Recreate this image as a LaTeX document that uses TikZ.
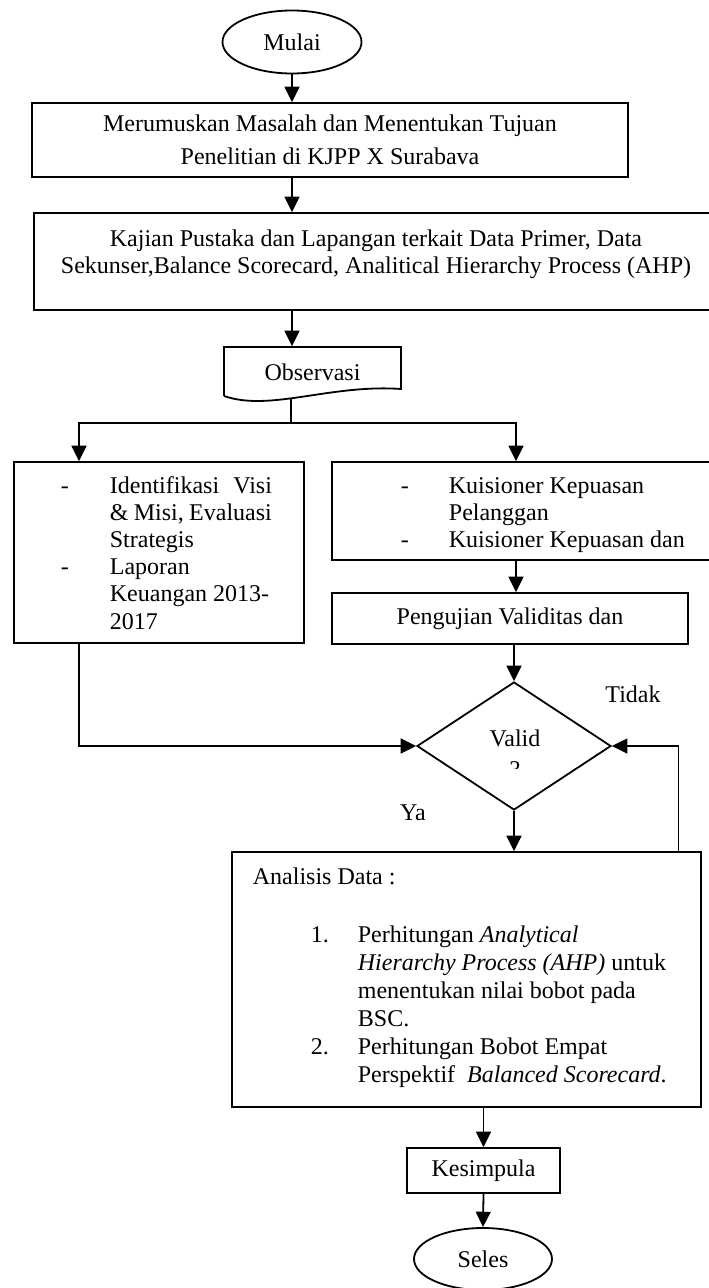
\documentclass[tikz,border=0pt]{standalone}
\usepackage{fontspec}
\setmainfont{Liberation Serif}
\usetikzlibrary{arrows.meta,shapes.geometric}

\begin{document}
\begin{tikzpicture}[x=0.5pt, y=-0.5pt, line width=0.9pt,
    every node/.style={font=\fontsize{12}{13.6}\selectfont},
    kotak/.style={draw, rectangle, inner sep=0pt},
    panah/.style={-{Triangle[length=2.7mm, width=2.6mm]}}]
  \useasboundingbox (0,0) rectangle (708,1288);

  \node[draw, ellipse, minimum width=69.5pt, minimum height=31.5pt, inner sep=0pt] (mulai) at (292,42) {Mulai};
  \node[kotak, minimum width=298pt, minimum height=37pt, align=center] (rumus) at (330,140) {Merumuskan Masalah dan Menentukan Tujuan\\[3pt] Penelitian di KJPP X Surabava};
  \node[kotak, minimum width=342pt, minimum height=48.5pt] (kajian) at (376,261.5) {};
  \node[align=center] (kajiantxt) at (376,254) {Kajian Pustaka dan Lapangan terkait Data Primer, Data\\ Sekunser,Balance Scorecard, Analitical Hierarchy Process (AHP)};

  \draw (224,396) -- (224,347) -- (401,347) -- (401,389) .. controls (330,384) and (270,412) .. (224,396);
  \node[minimum width=88.5pt, minimum height=25pt, inner sep=0pt] (obs) at (312.5,372) {Observasi};
  \coordinate (obsbawah) at (291,399);
  \coordinate (cabang) at (291,423);

  \node[kotak, minimum width=145pt, minimum height=90.5pt] (kiri) at (159,552.5) {};
  \node[anchor=base west, inner sep=0pt] (kiritxt) at (60,493) {\begin{tabular}[t]{@{}p{24.5pt}@{}l@{}}
    - & \makebox[81pt][s]{Identifikasi \ Visi}\\
      & \makebox[81pt][s]{\& Misi, Evaluasi}\\
      & Strategis\\
    - & Laporan\\
      & Keuangan 2013-\\
      & 2017
  \end{tabular}};
  \node[kotak, minimum width=204pt, minimum height=49pt] (kanan) at (536,511) {};
  \node[anchor=base west, inner sep=0pt] (kanantxt) at (400,493) {\begin{tabular}[t]{@{}p{24pt}@{}l@{}}
    - & Kuisioner Kepuasan\\
      & Pelanggan\\
    - & Kuisioner Kepuasan dan
  \end{tabular}};
  \node[kotak, minimum width=178pt, minimum height=25.5pt] (uji) at (510,618.5) {Pengujian Validitas dan};

  \node[draw, diamond, minimum width=97pt, minimum height=64pt, inner sep=0pt] (valid) at (514,746) {};
  \node (validtxt) at (515,738) {Valid};
  \begin{scope}
    \clip (500,761) rectangle (530,768);
    \node (tanya) at (515,770) {?};
  \end{scope}
  \node (tidak) at (633,694) {Tidak};
  \node (ya) at (413,813) {Ya};

  \node[kotak, minimum width=234.5pt, minimum height=127.5pt] (analisis) at (466.5,979.5) {};
  \node[anchor=base west, inner sep=0pt] (judul) at (252,884) {Analisis Data :};
  \node[anchor=base west, inner sep=0pt, font=\fontsize{12}{14}\selectfont] (daftar) at (310,942) {\begin{tabular}[t]{@{}p{23.5pt}@{}l@{}}
    1. & Perhitungan \textit{Analytical}\\
       & \textit{Hierarchy Process (AHP)} untuk\\
       & menentukan nilai bobot pada\\
       & BSC.\\
    2. & Perhitungan Bobot Empat\\
       & Perspektif \ \textit{Balanced Scorecard}.
  \end{tabular}};
  \node[kotak, minimum width=76.5pt, minimum height=22.5pt] (simpul) at (483.5,1170.5) {Kesimpula};
  \node[draw, ellipse, minimum width=69pt, minimum height=31pt, inner sep=0pt] (seles) at (483,1259) {Seles};

  \draw[panah] (mulai.south) -- (mulai.south |- rumus.north);
  \draw[panah] (rumus.south -| mulai.south) -- (kajian.north -| mulai.south);
  \draw[panah] (kajian.south -| mulai.south) -- (obs.north -| mulai.south);
  \draw (obsbawah) -- (cabang);
  \draw[panah] (cabang) -| ([xshift=-40pt]kiri.north);
  \draw[panah] (cabang) -| ([xshift=-10pt]kanan.north);
  \draw[panah] ([xshift=-10pt]kanan.south) -- ([xshift=-10pt]kanan.south |- uji.north);
  \draw[panah] (valid.north |- uji.south) -- (valid.north);
  \draw[panah] ([xshift=-40pt]kiri.south) |- (valid.west);
  \draw[panah] ([xshift=106pt]analisis.north) |- (valid.east);
  \draw[panah] (valid.south) -- (valid.south |- analisis.north);
  \draw[panah] (simpul.north |- analisis.south) -- (simpul.north);
  \draw[panah] (simpul.south) -- (seles.north);
\end{tikzpicture}
\end{document}
